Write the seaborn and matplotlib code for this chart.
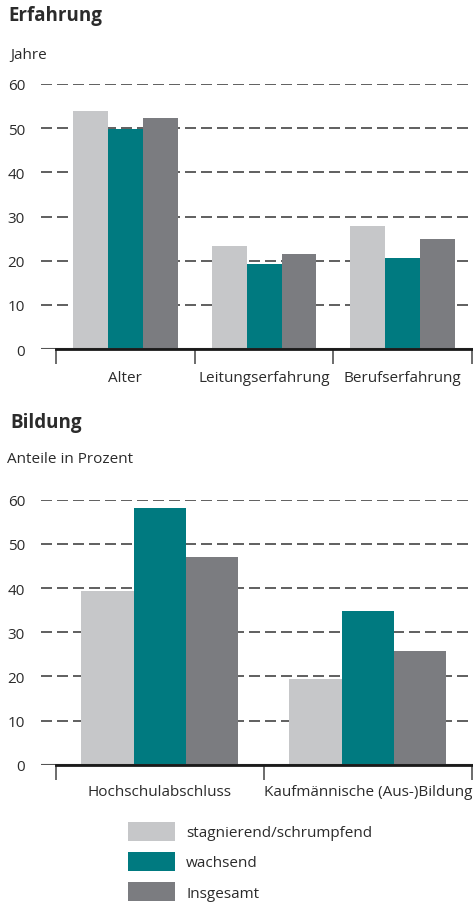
import numpy as np
import pandas as pd
import matplotlib
matplotlib.use("Agg")
import matplotlib.pyplot as plt
import matplotlib.patches as mpatches
import seaborn as sns

# -----------------------------
# Data
# -----------------------------
groups = ["stagnierend/schrumpfend", "wachsend", "Insgesamt"]
colors = ["#c6c7c9", "#007a80", "#7b7c80"]

exp_cats = ["Alter", "Leitungserfahrung", "Berufserfahrung"]
exp_stag = [53.8, 23.3, 27.8]
exp_wach = [49.8, 19.2, 20.6]
exp_ges = [52.3, 21.5, 24.9]

edu_cats = ["Hochschulabschluss", "Kaufmännische (Aus-)Bildung"]
edu_stag = [39.3, 19.4]
edu_wach = [58.1, 34.8]
edu_ges = [47.0, 25.7]

y_ticks = [0, 10, 20, 30, 40, 50, 60]


def to_long(cats, *series):
    rows = []
    for g, vals in zip(groups, series):
        for c, v in zip(cats, vals):
            rows.append({"Kategorie": c, "Gruppe": g, "Wert": v})
    return pd.DataFrame(rows)


df_exp = to_long(exp_cats, exp_stag, exp_wach, exp_ges)
df_edu = to_long(edu_cats, edu_stag, edu_wach, edu_ges)

# -----------------------------
# Style
# -----------------------------
sns.set_style("white")
plt.rcParams["font.family"] = ["Open Sans", "DejaVu Sans"]
plt.rcParams["text.color"] = "#2b2b2b"

W, H = 473, 904
fig = plt.figure(figsize=(W / 100, H / 100), dpi=100)


def px_axes(left, right, top, bottom):
    return fig.add_axes([left / W, 1 - bottom / H, (right - left) / W, (bottom - top) / H])


def style_axes(ax, cats, xlim, label_pad):
    ax.set_ylim(0, 60)
    ax.set_xlim(*xlim)
    ax.set_axisbelow(True)
    for s in ["left", "right", "top"]:
        ax.spines[s].set_visible(False)
    ax.spines["bottom"].set_bounds(-0.5, len(cats) - 0.5)
    ax.spines["bottom"].set_linewidth(2)
    ax.spines["bottom"].set_color("#1a1a1a")
    ax.spines["bottom"].set_zorder(5)
    ax.set_yticks(y_ticks)
    ax.yaxis.grid(True, color="#444444", linewidth=1.2, linestyle=(0, (6.6, 3.0)))
    ax.axhline(0, color="#555555", linewidth=1.5, zorder=1)
    ax.tick_params(axis="y", left=False, length=0, pad=11.5, labelsize=11,
                   labelcolor="#2b2b2b")
    ax.set_xticks(range(len(cats)))
    ax.set_xticklabels(cats)
    ax.tick_params(axis="x", which="major", bottom=False, length=0, pad=label_pad,
                   labelsize=11, labelcolor="#2b2b2b")
    ax.set_xticks(np.arange(len(cats) + 1) - 0.5, minor=True)
    ax.tick_params(axis="x", which="minor", bottom=True, length=10.8, width=1.1,
                   color="#444444")
    ax.set_xlabel("")
    ax.set_ylabel("")


# -----------------------------
# Chart 1: Erfahrung
# -----------------------------
ax1 = px_axes(41, 473, 85, 350)
sns.barplot(data=df_exp, x="Kategorie", y="Wert", hue="Gruppe", hue_order=groups,
            palette=colors, width=0.757, saturation=1, linewidth=0, legend=False, ax=ax1)
style_axes(ax1, exp_cats, (-0.608, 2.507), 15)

fig.text(8 / W, 1 - 16 / H, "Erfahrung", fontsize=13.5, fontweight="bold",
         va="center", ha="left")
fig.text(10 / W, 1 - 56 / H, "Jahre", fontsize=11, va="center", ha="left")

# -----------------------------
# Chart 2: Bildung
# -----------------------------
ax2 = px_axes(41, 473, 500.7, 765.7)
sns.barplot(data=df_edu, x="Kategorie", y="Wert", hue="Gruppe", hue_order=groups,
            palette=colors, width=0.755, saturation=1, linewidth=0, legend=False, ax=ax2)
style_axes(ax2, edu_cats, (-0.572, 1.505), 14)

fig.text(10 / W, 1 - 423 / H, "Bildung", fontsize=13.5, fontweight="bold",
         va="center", ha="left")
fig.text(7 / W, 1 - 460 / H, "Anteile in Prozent", fontsize=11, va="center", ha="left")

# -----------------------------
# Legend
# -----------------------------
handles = [mpatches.Patch(facecolor=c, edgecolor="none", label=g) for g, c in zip(groups, colors)]
fig.legend(handles=handles, loc="upper left", bbox_to_anchor=(128 / W, 1 - 823 / H),
           frameon=False, fontsize=11, handlelength=3.05, handleheight=1.5,
           handletextpad=0.75, labelspacing=0.75, borderpad=0, borderaxespad=0)

fig.savefig("out.png", dpi=100)
